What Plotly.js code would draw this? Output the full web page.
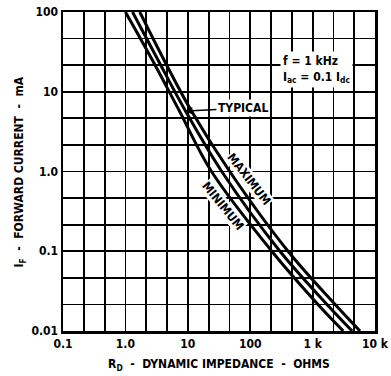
<!DOCTYPE html>
<html>
<head>
<meta charset="utf-8">
<script src="https://cdn.plot.ly/plotly-3.0.1.min.js"></script>
<style>html,body{margin:0;padding:0;background:#fff;}#chart{width:391px;height:376px;}</style>
</head>
<body>
<div id="chart"></div>
<script>
// Data (R in ohms, I in mA)
const rMinimum = [1.0, 2.7, 7.2, 24, 222, 1220, 3100];
const iMinimum = [100, 25, 5.9, 1.0, 0.1, 0.0215, 0.01];
const rTypical = [1.3, 3.33, 9.0, 35, 300, 1700, 4300];
const iTypical = [100, 25, 5.9, 1.0, 0.1, 0.0215, 0.01];
const rMaximum = [1.7, 4.16, 11.2, 47, 404, 2300, 5750];
const iMaximum = [100, 25, 5.9, 1.0, 0.1, 0.0215, 0.01];

const xTickVals = [0.1, 1, 10, 100, 1000, 10000];
const xTickText = ['0.1', '1.0', '10', '100', '1 k', '10 k'];
const yTickVals = [0.01, 0.1, 1, 10, 100];
const yTickText = ['0.01', '0.1', '1.0', '10', '100'];

const FONT = "'Liberation Sans Narrow', 'DejaVu Sans Condensed', sans-serif";

// extra grid lines at thirds of each decade
function thirdVals(lo, hi) {
  const v = [];
  for (let k = lo * 3; k < hi * 3; k++) {
    if (k % 3 !== 0) v.push(Math.pow(10, k / 3));
  }
  return v;
}

const lineStyle = {color: '#000', width: 3, shape: 'spline', smoothing: 1};
const traces = [
  {x: rMinimum, y: iMinimum, mode: 'lines', line: lineStyle, name: 'MINIMUM', hoverinfo: 'none'},
  {x: rTypical, y: iTypical, mode: 'lines', line: lineStyle, name: 'TYPICAL', hoverinfo: 'none'},
  {x: rMaximum, y: iMaximum, mode: 'lines', line: lineStyle, name: 'MAXIMUM', hoverinfo: 'none'}
];

const gridStyle = {showgrid: true, gridcolor: '#000', gridwidth: 1.8};

const layout = {
  width: 391, height: 376,
  margin: {l: 63, r: 16, t: 12, b: 45},
  paper_bgcolor: '#fff', plot_bgcolor: '#fff',
  showlegend: false,
  font: {family: FONT, color: '#000', size: 12, weight: 'bold'},
  xaxis: Object.assign({
    type: 'log', range: [-1, 4], autorange: false,
    tickmode: 'array', tickvals: xTickVals, ticktext: xTickText,
    ticks: '',
    minor: Object.assign({tickmode: 'array', tickvals: thirdVals(-1, 4), ticks: ''}, gridStyle),
    showline: true, linecolor: '#000', linewidth: 2.5, mirror: true,
    tickfont: {family: FONT, size: 12, weight: 'bold', color: '#000'},
    title: {text: 'R<sub>D</sub>  -  DYNAMIC IMPEDANCE  -  OHMS', font: {family: FONT, size: 12, weight: 'bold', color: '#000'}, standoff: 10},
    automargin: false, fixedrange: true
  }, gridStyle),
  yaxis: Object.assign({
    type: 'log', range: [-2, 2], autorange: false,
    tickmode: 'array', tickvals: yTickVals, ticktext: yTickText,
    ticks: '',
    minor: Object.assign({tickmode: 'array', tickvals: thirdVals(-2, 2), ticks: ''}, gridStyle),
    showline: true, linecolor: '#000', linewidth: 2.5, mirror: true,
    tickfont: {family: FONT, size: 12, weight: 'bold', color: '#000'},
    automargin: false, fixedrange: true
  }, gridStyle),
  annotations: [
    {xref: 'paper', yref: 'paper', x: -0.138, y: 0.5, xanchor: 'center', yanchor: 'middle',
     text: 'I<sub>F</sub>  -  FORWARD CURRENT  -  mA', textangle: -90, showarrow: false,
     font: {family: FONT, size: 12, weight: 'bold', color: '#000'}},
    {x: Math.log10(9.0), y: Math.log10(5.7), text: 'TYPICAL', showarrow: true,
     ax: 58, ay: -3, arrowhead: 2, arrowsize: 1, arrowwidth: 1.5, arrowcolor: '#000',
     bgcolor: '#fff', borderpad: 1, font: {family: FONT, size: 12, weight: 'bold', color: '#000'}},
    {x: Math.log10(95), y: Math.log10(0.80), text: 'MAXIMUM', textangle: 52, showarrow: false,
     bgcolor: '#fff', borderpad: 0, font: {family: FONT, size: 12, weight: 'bold', color: '#000'}},
    {x: Math.log10(36.6), y: Math.log10(0.37), text: 'MINIMUM', textangle: 51, showarrow: false,
     bgcolor: '#fff', borderpad: 0, font: {family: FONT, size: 12, weight: 'bold', color: '#000'}},
    {x: Math.log10(300), y: Math.log10(18.8), xanchor: 'left', yanchor: 'middle', align: 'left',
     text: 'f = 1 kHz<br>I<sub>ac</sub> = 0.1 I<sub>dc</sub>', showarrow: false,
     bgcolor: '#fff', borderpad: 2, font: {family: FONT, size: 12, weight: 'bold', color: '#000'}}
  ]
};

Plotly.newPlot('chart', traces, layout, {staticPlot: true, displayModeBar: false});
</script>
</body>
</html>
